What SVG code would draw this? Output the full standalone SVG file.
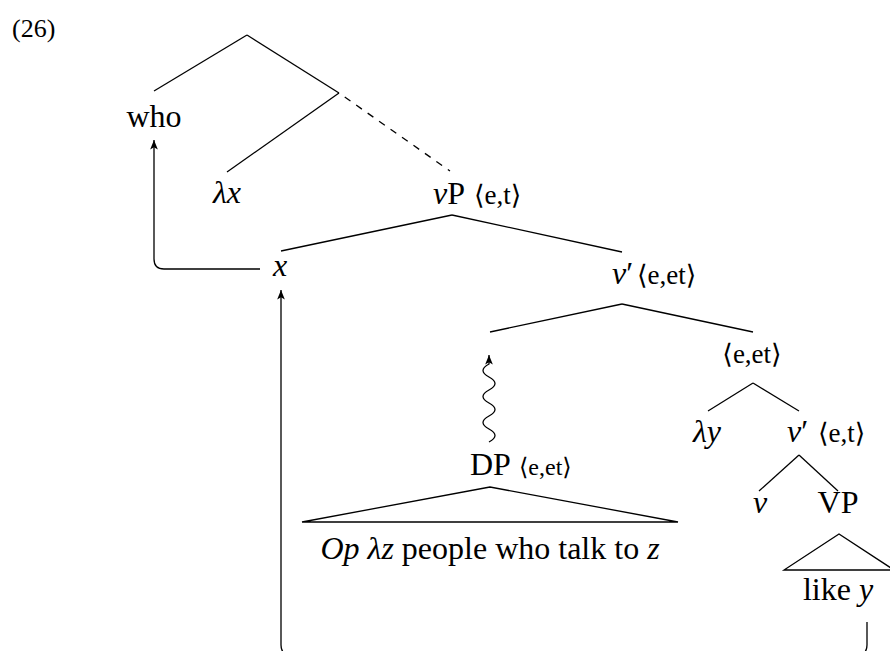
<svg xmlns="http://www.w3.org/2000/svg" width="890" height="651" viewBox="0 0 890 651">
<style>
text{font-family:"Liberation Serif","DejaVu Serif",serif;fill:#000}
.t{font-size:32px}
.m{font-style:italic}
.a{font-size:27px}
.as{font-size:24px}
.n{font-size:26px}
.e{stroke:#000;stroke-width:1.3;fill:none}
.d{stroke-dasharray:7 7;stroke-dashoffset:-7}
</style>
<defs>
<marker id="ah" markerUnits="userSpaceOnUse" markerWidth="12" markerHeight="12" viewBox="-9 -5 10 10" refX="0" refY="0" orient="auto">
<path d="M -8 -3.2 L 0 0 L -8 3.2 L -6 0 z" fill="#000"/>
</marker>
</defs>
<text class="n" x="12" y="37">(26)</text>

<g id="edges">
<line class="e" x1="247" y1="35" x2="154" y2="91"/>
<line class="e" x1="247" y1="35" x2="339" y2="93"/>
<line class="e" x1="339" y1="93" x2="227" y2="172"/>
<line class="e d" x1="339" y1="93" x2="450" y2="171"/>
<line class="e" x1="452" y1="215" x2="281" y2="251"/>
<line class="e" x1="452" y1="215" x2="622" y2="252"/>
<line class="e" x1="622" y1="304" x2="490" y2="332"/>
<line class="e" x1="622" y1="304" x2="753" y2="332"/>
<line class="e" x1="753" y1="383" x2="708" y2="411"/>
<line class="e" x1="753" y1="383" x2="799" y2="411"/>
<line class="e" x1="799" y1="455" x2="759" y2="491"/>
<line class="e" x1="799" y1="455" x2="838" y2="491"/>
<path class="e" d="M 490 487 L 302 522 L 678 522 Z"/>
<path class="e" d="M 839 534 L 784 570 L 894 570 Z"/>
<path class="e" marker-end="url(#ah)" d="M 260 269 L 164 269 Q 154 269 154 259 L 154 140"/>
<path class="e" marker-end="url(#ah)" d="M 867 622 L 867 645 Q 867 655 857 655 L 291 655 Q 281 655 281 645 L 281 290"/>
<path class="e" marker-end="url(#ah)" d="M 489 442 Q 501 435.5 489 429 T 489 416 T 489 403 T 489 390 T 489 377 T 489 364 L 489 355"/>
</g>

<g id="who"><text class="t" x="154" y="127" text-anchor="middle">who</text></g>
<g id="lambda-x"><text class="t m" x="227" y="203" text-anchor="middle">λx</text></g>
<g id="vP"><text class="t" x="433" y="204"><tspan class="m">v</tspan>P</text><text class="a" x="474" y="204">⟨e,t⟩</text></g>
<g id="x"><text class="t m" x="280" y="276" text-anchor="middle">x</text></g>
<g id="v-bar-1"><text class="t" x="612" y="284"><tspan class="m">v</tspan>′</text><text class="a" x="637" y="284">⟨e,et⟩</text></g>
<g id="e-et"><text class="a" x="752" y="363" text-anchor="middle">⟨e,et⟩</text></g>
<g id="lambda-y"><text class="t m" x="707" y="442" text-anchor="middle">λy</text></g>
<g id="v-bar-2"><text class="t" x="787" y="442"><tspan class="m">v</tspan>′</text><text class="a" x="818" y="442">⟨e,t⟩</text></g>
<g id="v"><text class="t m" x="760" y="513" text-anchor="middle">v</text></g>
<g id="VP"><text class="t" x="838" y="513" text-anchor="middle">VP</text></g>
<g id="like-y"><text class="t" x="838" y="600" text-anchor="middle">like <tspan class="m">y</tspan></text></g>
<g id="DP"><text class="t" x="470" y="475">DP</text><text class="as" x="519" y="475">⟨e,et⟩</text></g>
<g id="DP-content"><text class="t" x="490" y="559" text-anchor="middle"><tspan class="m">Op λz</tspan> people who talk to <tspan class="m">z</tspan></text></g>
</svg>
